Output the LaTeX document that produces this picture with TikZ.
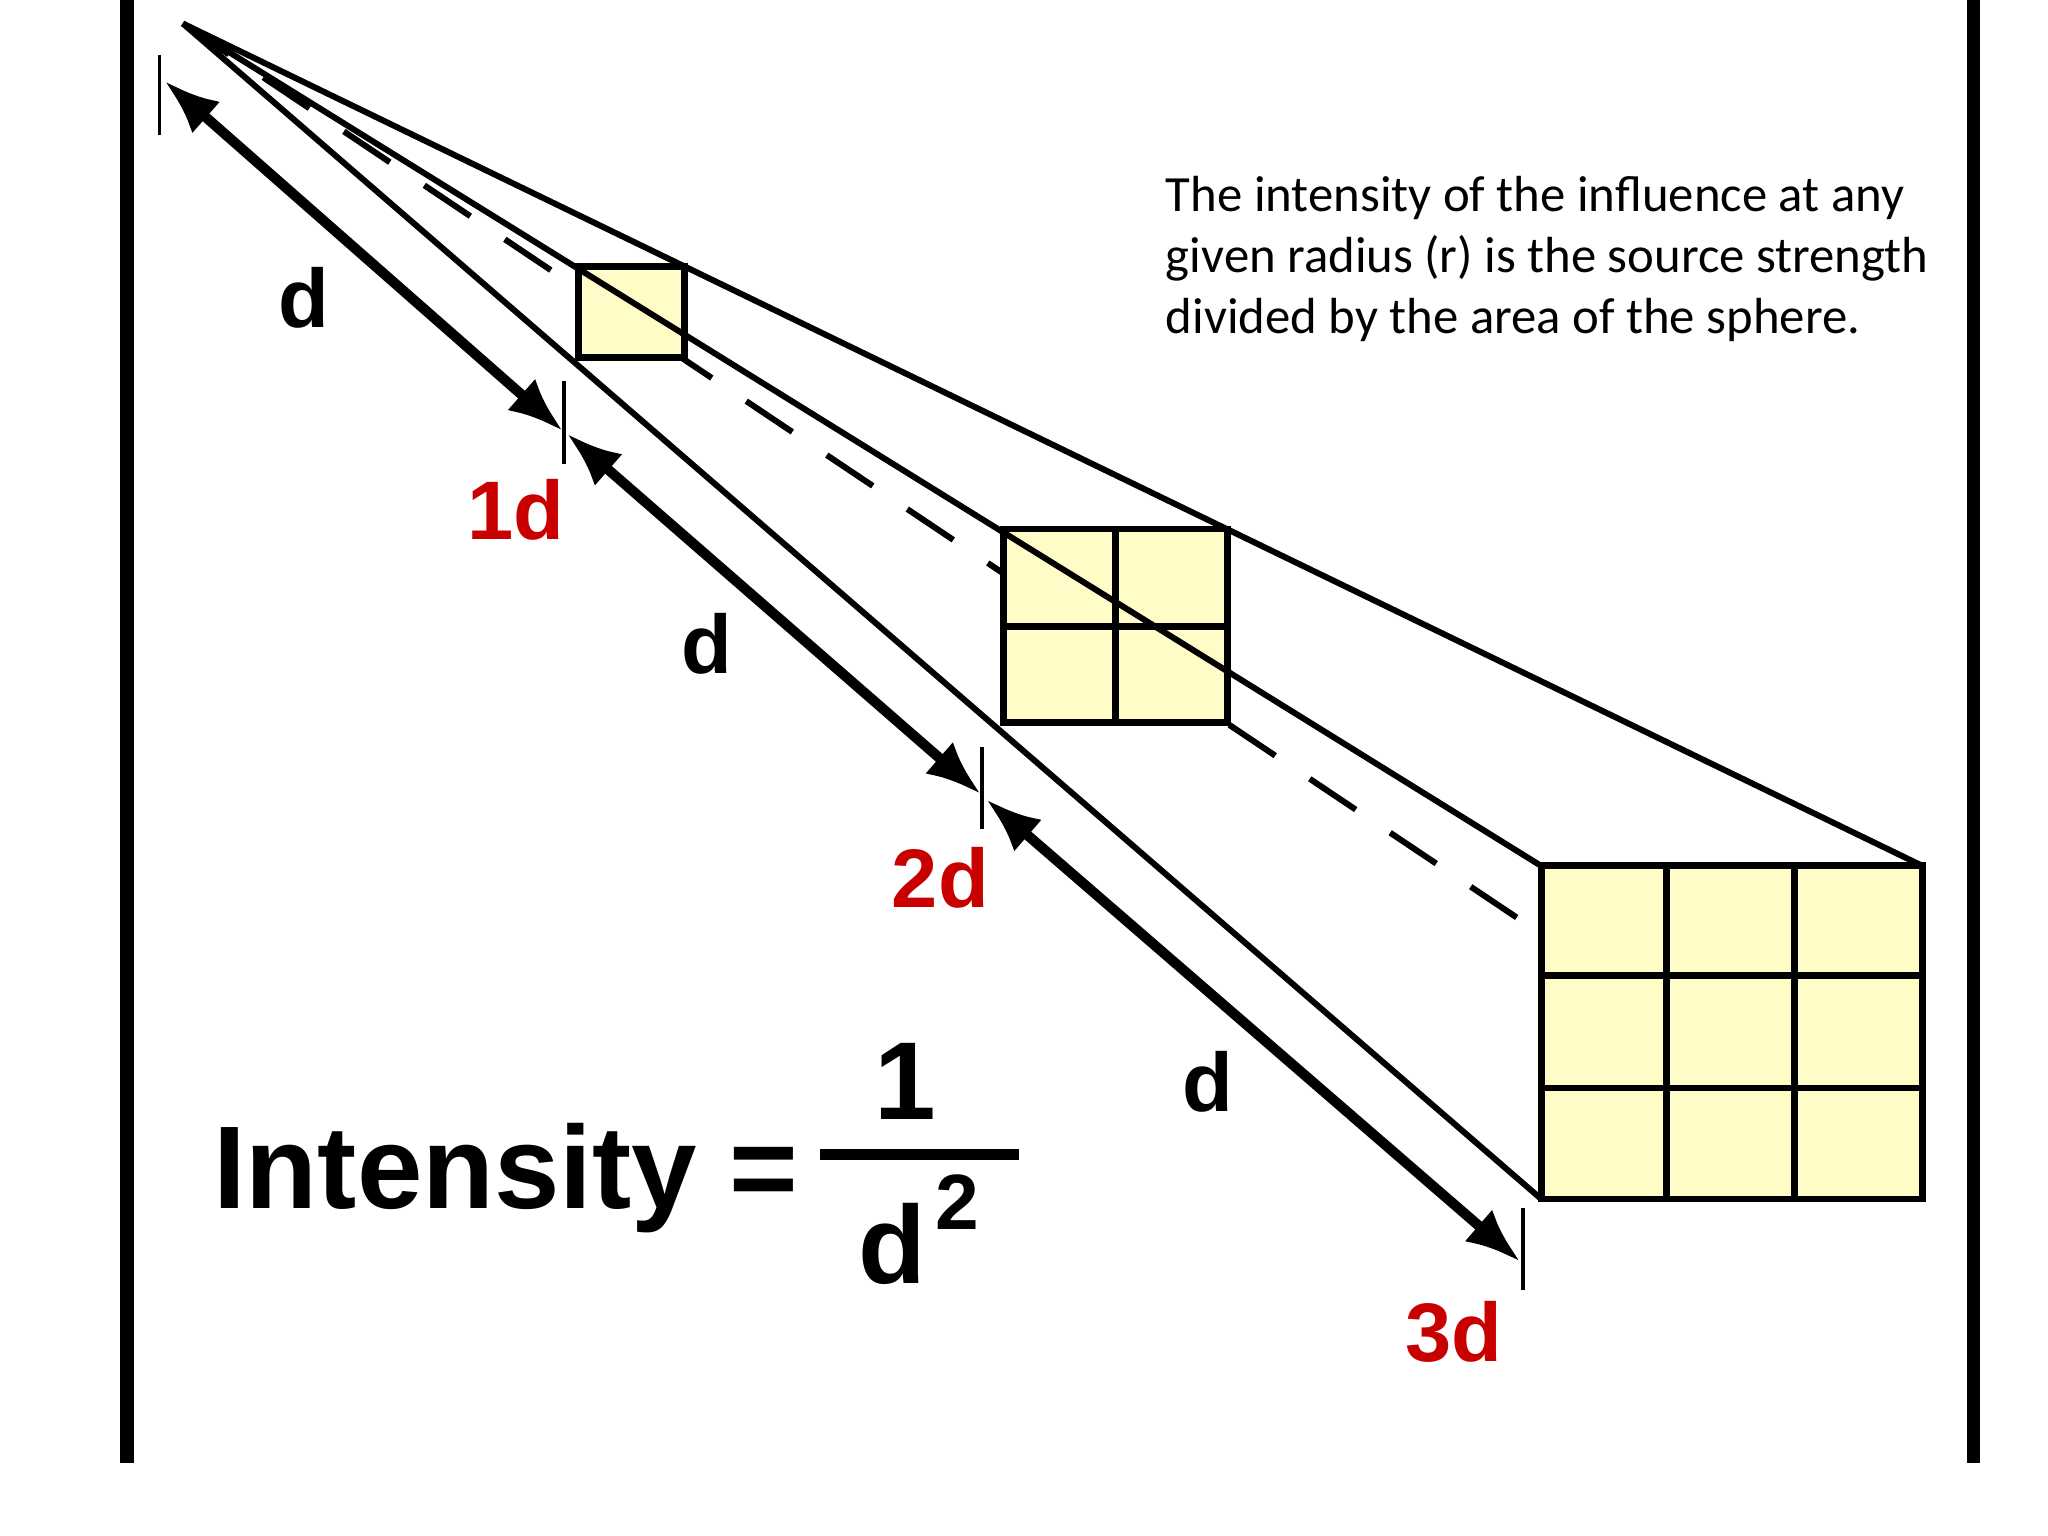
\documentclass[tikz,border=0pt]{standalone}
\usepackage{fontspec}
\setmainfont{Liberation Sans}
\newfontfamily\calfont{Carlito}
\usetikzlibrary{arrows.meta}
\definecolor{sq}{RGB}{255,252,200}
\definecolor{lab}{RGB}{200,0,0}
\tikzset{
  edge/.style={line width=1.3pt},
  sqbox/.style={draw, line width=1.5pt, fill=sq},
  grid/.style={line width=1.5pt},
  tick/.style={line width=0.8pt},
  dim/.style={line width=2.2pt, {Latex[length=0.42cm,width=0.32cm]}-{Latex[length=0.42cm,width=0.32cm]}},
  dlab/.style={font=\fontsize{18}{20}\selectfont\bfseries},
  rlab/.style={font=\fontsize{18}{20}\selectfont\bfseries, text=lab},
}
\begin{document}
\begin{tikzpicture}[x=0.00995cm,y=-0.00995cm]
\useasboundingbox[fill=white] (0,0) rectangle (1568,1176);
\draw[line width=3pt] (97,0) -- (97,1120);
\draw[line width=3pt] (1511,0) -- (1511,1120);
\coordinate (apex) at (140,18);
\coordinate (hid) at (1165,705);
\draw[edge, dash pattern=on 12pt off 9pt] (apex) -- (hid);
\draw[sqbox] (443,204) rectangle (524,274);
\draw[sqbox] (768,405) rectangle (940,553);
\draw[grid] (854,405) -- (854,553) (768,480) -- (940,480);
\draw[sqbox] (1180,663) rectangle (1472,918);
\draw[grid] (1276,663) -- (1276,918) (1374,663) -- (1374,918) (1180,747) -- (1472,747) (1180,833) -- (1472,833);
\draw[edge] (apex) -- (1472,663);
\draw[edge] (apex) -- (1180,918);
\draw[edge] (apex) -- (1180,663);
% ticks
\coordinate (t0a) at (122,42); \coordinate (t0b) at (122,103);
\coordinate (t1a) at (432,292); \coordinate (t1b) at (432,355);
\coordinate (t2a) at (752,572); \coordinate (t2b) at (752,635);
\coordinate (t3a) at (1166,925); \coordinate (t3b) at (1166,988);
\draw[tick] (t0a)--(t0b) (t1a)--(t1b) (t2a)--(t2b) (t3a)--(t3b);
\coordinate (a0) at (126,62); \coordinate (a1e) at (431,330);
\coordinate (a1s) at (434,332); \coordinate (a2e) at (751,608);
\coordinate (a2s) at (755,612); \coordinate (a3e) at (1164,966);
\draw[dim] (a0) -- (a1e);
\draw[dim] (a1s) -- (a2e);
\draw[dim] (a2s) -- (a3e);
\node[dlab] (d1) at (233,228) {d};
\node[dlab] (d2) at (541,493) {d};
\node[dlab] (d3) at (925,828) {d};
\node[rlab] (l1) at (395,390) {1d};
\node[rlab] (l2) at (720,672) {2d};
\node[rlab] (l3) at (1113,1020) {3d};
\node[anchor=north west, align=left, inner sep=0, font=\calfont\fontsize{11}{13.3}\selectfont] (txt) at (892,134)
 {The intensity of the influence at any\\given radius (r) is the source strength\\divided by the area of the sphere.};
\node[anchor=east, inner sep=0, font=\fontsize{25.5}{28}\selectfont\bfseries] (int) at (612,902) {Intensity =};
\draw[line width=2.4pt] (628,884) -- (780,884);
\node[font=\fontsize{24}{28}\selectfont\bfseries] (one) at (693,828) {1};
\node[font=\fontsize{24}{28}\selectfont\bfseries] (dd) at (683,952) {d};
\node[font=\fontsize{17}{20}\selectfont\bfseries] (two) at (733,920) {2};
\end{tikzpicture}
\end{document}
